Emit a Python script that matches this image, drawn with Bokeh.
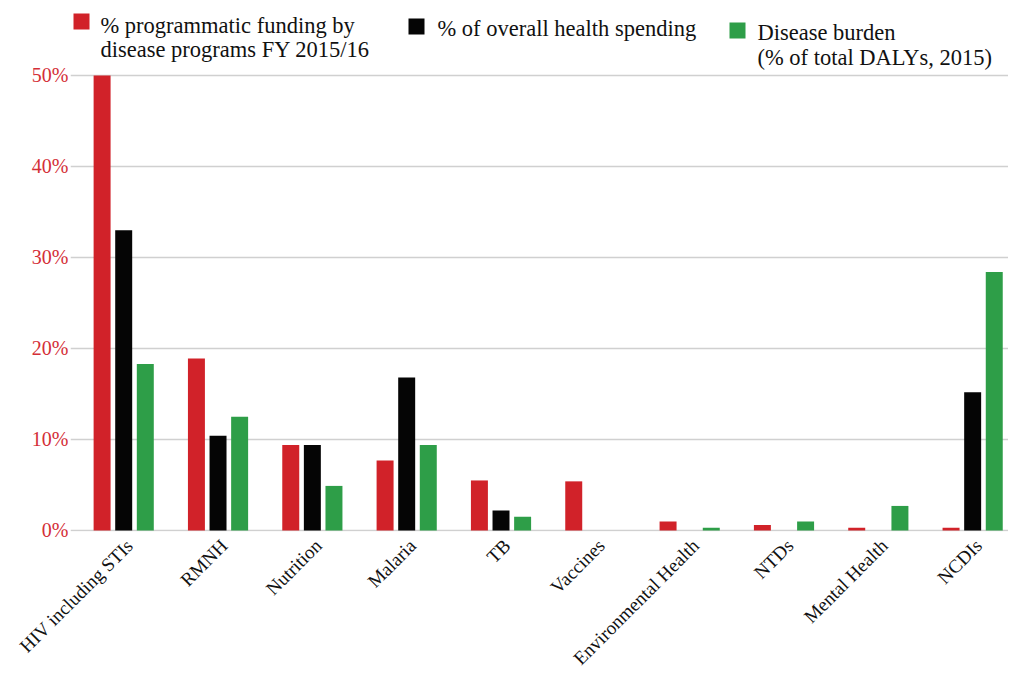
import numpy as np
from bokeh.plotting import figure
from bokeh.models import (Range1d, FixedTicker, PrintfTickFormatter, Label,
                          BoxAnnotation)
from bokeh.embed import file_html
from bokeh.resources import INLINE
from math import pi

categories = ["HIV including STIs", "RMNH", "Nutrition", "Malaria", "TB",
              "Vaccines", "Environmental Health", "NTDs", "Mental Health", "NCDIs"]
programmatic = [50.0, 18.9, 9.4, 7.7, 5.5, 5.4, 1.0, 0.6, 0.3, 0.3]
overall = [33.0, 10.4, 9.4, 16.8, 2.2, 0.0, 0.0, 0.0, 0.0, 15.2]
burden = [18.3, 12.5, 4.9, 9.4, 1.5, 0.0, 0.3, 1.0, 2.7, 28.4]
y_ticks = [0, 10, 20, 30, 40, 50]
legend_lines = [["% programmatic funding by", "disease programs FY 2015/16"],
                ["% of overall health spending"],
                ["Disease burden", "(% of total DALYs, 2015)"]]

RED = "#d12229"
BLACK = "#050505"
GREEN = "#2e9e48"
FONT = "Liberation Serif"

# frame covers the canvas from the top so the legend (drawn inside it) is not clipped
p = figure(output_backend="svg", toolbar_location=None,
           frame_width=938, frame_height=531,
           x_range=Range1d(-0.564, 9.38), y_range=Range1d(-0.11, 58.24),
           min_border_left=70, min_border_right=0,
           min_border_top=0, min_border_bottom=10)
p.border_fill_color = "white"
p.background_fill_color = "white"

idx = np.arange(len(categories))
off = 0.229
bw = 0.18
p.vbar(x=idx - off, top=programmatic, width=bw, color=RED, line_color=None)
p.vbar(x=idx, top=overall, width=bw, color=BLACK, line_color=None)
p.vbar(x=idx + off, top=burden, width=bw, color=GREEN, line_color=None)

p.outline_line_color = None
p.xgrid.grid_line_color = None
p.ygrid.grid_line_color = "#d0d0d0"
p.ygrid.grid_line_width = 1.5
p.ygrid.ticker = FixedTicker(ticks=y_ticks)

p.yaxis.ticker = FixedTicker(ticks=y_ticks)
p.yaxis.formatter = PrintfTickFormatter(format="%d%%")
p.yaxis.axis_line_color = None
p.yaxis.major_tick_line_color = None
p.yaxis.minor_tick_line_color = None
p.yaxis.major_tick_out = 0
p.yaxis.major_label_text_color = "#d42e37"
p.yaxis.major_label_text_font = FONT
p.yaxis.major_label_text_font_size = "20px"
p.yaxis.major_label_standoff = 2

label_shift = 0.064
xticks = [float(i) + label_shift for i in idx]
p.xaxis.ticker = FixedTicker(ticks=xticks)
p.xaxis.major_label_overrides = {t: c for t, c in zip(xticks, categories)}
p.xaxis.major_label_orientation = pi / 4
p.xaxis.axis_line_color = None
p.xaxis.major_tick_line_color = None
p.xaxis.minor_tick_line_color = None
p.xaxis.major_tick_out = 0
p.xaxis.major_label_standoff = 11
p.xaxis.major_label_text_font = FONT
p.xaxis.major_label_text_font_size = "19px"
p.xaxis.major_label_text_color = "#111111"

# legend, canvas pixel units (x from left, y from top)
squares = [(73, 13, RED), (408, 18, BLACK), (729, 22, GREEN)]
text_pos = [(100, [25, 49]), (437, [28]), (757, [32, 57])]
for (x0, y0, col) in squares:
    p.add_layout(BoxAnnotation(left=x0, right=x0 + 16, top=y0, bottom=y0 + 16,
                               left_units="canvas", right_units="canvas",
                               top_units="canvas", bottom_units="canvas",
                               fill_color=col, fill_alpha=1.0, line_color=None))
for (tx, baselines), lines in zip(text_pos, legend_lines):
    for b, line in zip(baselines, lines):
        p.add_layout(Label(x=tx, y=b, x_units="canvas", y_units="canvas",
                           text=line, text_font=FONT, text_font_size="22.5px",
                           text_color="#111111", text_baseline="alphabetic"))

open("out.html", "w").write(file_html(p, INLINE))
